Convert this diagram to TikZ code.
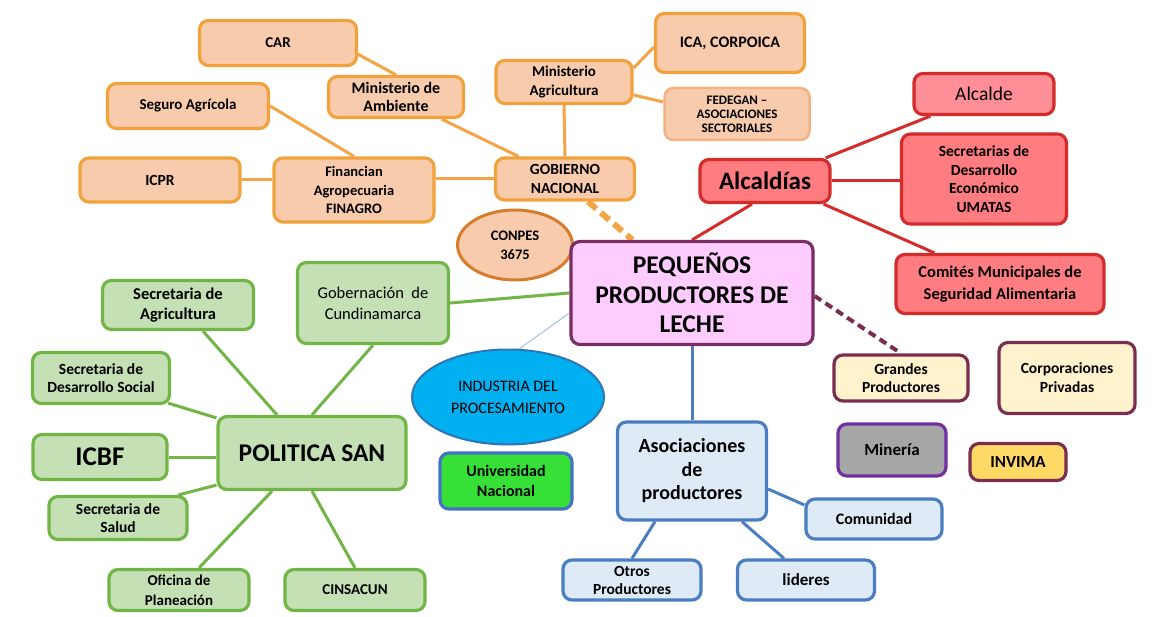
\documentclass[tikz,border=0pt]{standalone}
\usepackage{fontspec}
\setmainfont{Carlito}
\usetikzlibrary{backgrounds,calc,shapes.geometric}
\newcommand{\fsz}[2]{\fontsize{#1}{#2}\selectfont}
\definecolor{orF}{HTML}{F8CBAD}
\definecolor{orB}{HTML}{F2A23C}
\definecolor{orL}{HTML}{F4A447}
\definecolor{fedB}{HTML}{F4B183}
\definecolor{conB}{HTML}{D77B2D}
\definecolor{redF}{HTML}{FF7C80}
\definecolor{redF2}{HTML}{FF8E96}
\definecolor{redB}{HTML}{D42B2B}
\definecolor{pinkF}{HTML}{FFCCFF}
\definecolor{pinkB}{HTML}{7A2D62}
\definecolor{grF}{HTML}{C5E0B4}
\definecolor{grB}{HTML}{70B545}
\definecolor{bluF}{HTML}{DEEBF7}
\definecolor{bluB}{HTML}{4A7EC0}
\definecolor{indF}{HTML}{00B0F0}
\definecolor{indB}{HTML}{2E75B6}
\definecolor{uniF}{HTML}{36E036}
\definecolor{uniB}{HTML}{4472C4}
\definecolor{yelF}{HTML}{FFF2CC}
\definecolor{marB}{HTML}{7B2D50}
\definecolor{minF}{HTML}{A6A6A6}
\definecolor{minB}{HTML}{7030A0}
\definecolor{invF}{HTML}{FFD966}
\definecolor{thinL}{HTML}{9DC3E6}
\tikzset{
  wh/.style 2 args={minimum width=#1pt, minimum height=#2pt},
  box/.style={rectangle, rounded corners=9pt, line width=3.2pt, align=center, inner sep=2pt},
  obox/.style={box, draw=orB, fill=orF, font=\bfseries\fsz{15}{18.5}},
  rbox/.style={box, draw=redB, fill=redF, font=\bfseries\fsz{15.5}{18.5}},
  gbox/.style={box, draw=grB, fill=grF, font=\bfseries\fsz{15.5}{19}},
  bbox/.style={box, draw=bluB, fill=bluF, font=\bfseries\fsz{16}{19}},
  ybox/.style={box, draw=marB, fill=yelF, font=\bfseries\fsz{15.5}{18.5}},
  oline/.style={draw=orL, line width=3pt},
  rline/.style={draw=redB, line width=3pt},
  gline/.style={draw=grB, line width=3pt},
  bline/.style={draw=bluB, line width=3pt},
}
\begin{document}
\begin{tikzpicture}[x=1pt,y=-1pt]
\useasboundingbox (0,0) rectangle (1161,617);
% orange group
\node[obox, wh={157}{45}] (car) at (278,43) {CAR};
\node[obox, wh={135}{41}, font=\bfseries\fsz{16}{18}] (minamb) at (396,97) {Ministerio de\\Ambiente};
\node[obox, wh={161}{45}] (seguro) at (188,106) {Seguro Agrícola};
\node[obox, wh={160}{44}, font=\bfseries\fsz{15.5}{18}] (icpr) at (160,180) {ICPR};
\node[obox, wh={160}{64}, font=\bfseries\fsz{14.5}{18.5}] (financ) at (354,190) {Financian\\Agropecuaria\\FINAGRO};
\node[obox, wh={136}{43}, font=\bfseries\fsz{15}{19}] (minag) at (564,82) {Ministerio\\Agricultura};
\node[obox, wh={149}{59}, font=\bfseries\fsz{16}{18}] (ica) at (730,43) {ICA, CORPOICA};
\node[obox, draw=fedB, line width=2.5pt, wh={145}{52}, font=\bfseries\fsz{13}{14}] (fed) at (737,114) {FEDEGAN --\\ASOCIACIONES\\SECTORIALES};
\node[obox, wh={139}{42}, font=\bfseries\fsz{15.5}{19}] (gob) at (565,179) {GOBIERNO\\NACIONAL};
\node[ellipse, draw=conB, fill=orF, line width=3pt, wh={115}{70}, align=center, inner sep=0pt, font=\bfseries\fsz{14.5}{19}] (conpes) at (515,245) {CONPES\\3675};
% red group
\node[rbox, wh={130}{43}, font=\bfseries\fsz{25}{26}] (alc) at (765,181) {Alcaldías};
\node[rbox, fill=redF2, wh={140}{41}, font=\fsz{19.5}{21}] (alcalde) at (984,94) {Alcalde};
\node[rbox, wh={165}{90}] (sec) at (984,179) {Secretarias de\\Desarrollo\\Económico\\UMATAS};
\node[rbox, wh={208}{59}, font=\bfseries\fsz{16.5}{22.5}] (comites) at (1000,284) {Comités Municipales de\\Seguridad Alimentaria};
% main
\node[box, draw=pinkB, fill=pinkF, wh={242}{103}, font=\bfseries\fsz{25.5}{29.5}] (main) at (692,293) {PEQUEÑOS\\PRODUCTORES DE\\LECHE};
% green group
\node[gbox, wh={151}{81}, font=\fsz{16.5}{21}] (gobc) at (373,303) {Gobernación~ de\\Cundinamarca};
\node[gbox, wh={151}{49}, font=\bfseries\fsz{16.5}{20}] (secagr) at (178,305) {Secretaria de\\Agricultura};
\node[gbox, wh={137}{51}, font=\bfseries\fsz{15.5}{18.5}] (secdes) at (101,378) {Secretaria de\\Desarrollo Social};
\node[gbox, wh={134}{45}, font=\bfseries\fsz{27}{28}] (icbf) at (100,457) {ICBF};
\node[gbox, wh={188}{73}, font=\bfseries\fsz{25.5}{27}] (pol) at (312,453) {POLITICA SAN};
\node[gbox, wh={138}{43}, font=\bfseries\fsz{15.5}{18}] (salud) at (118,518) {Secretaria de\\Salud};
\node[gbox, wh={140}{41}, font=\bfseries\fsz{15}{20}] (ofi) at (179,590) {Oficina de\\Planeación};
\node[gbox, wh={140}{41}, font=\bfseries\fsz{15}{18}] (cins) at (355,590) {CINSACUN};
% industry / university
\node[ellipse, draw=indB, fill=indF, line width=2pt, wh={192}{95}, align=center, inner sep=0pt, font=\fsz{16}{22}] (ind) at (508,397) {INDUSTRIA DEL\\PROCESAMIENTO};
\node[box, draw=uniB, fill=uniF, wh={132}{56}, font=\bfseries\fsz{16}{20}] (uni) at (506,481) {Universidad\\Nacional};
% blue group
\node[bbox, wh={149}{98}, font=\bfseries\fsz{20}{23.5}] (asoc) at (692,471) {Asociaciones\\de\\productores};
\node[bbox, wh={136}{40}] (comun) at (874,519) {Comunidad};
\node[bbox, wh={137}{40}, font=\bfseries\fsz{17}{19}] (lid) at (806,580) {lideres};
\node[bbox, wh={138}{40}, font=\bfseries\fsz{15.5}{18}] (otros) at (632,580) {Otros\\Productores};
% others
\node[ybox, wh={134}{46}, font=\bfseries\fsz{15.5}{18}] (grandes) at (901,378) {Grandes\\Productores};
\node[ybox, wh={136}{71}, font=\bfseries\fsz{15.5}{19}] (corp) at (1067,378) {Corporaciones\\Privadas};
\node[box, draw=minB, fill=minF, wh={108}{52}, font=\bfseries\fsz{17}{18}] (mineria) at (892,450) {Minería};
\node[box, draw=marB, fill=invF, wh={96}{37}, font=\bfseries\fsz{17}{18}] (invima) at (1018,462) {INVIMA};

\begin{scope}[on background layer]
\fill[white] (0,0) rectangle (1161,617);
% orange connectors
\draw[oline] (car.-8) -- (minamb.north);
\draw[oline] (minamb) -- (gob);
\draw[oline] (seguro.east) -- (financ.north);
\draw[oline] (icpr.east) -- (icpr.east -| financ.west);
\draw[oline] (gob.west) -- (gob.west -| financ.east);
\draw[oline] (minag.south) -- (gob.north);
\draw[oline] ($(minag.east)+(0,-14)$) -- ($(ica.west)+(0,4)$);
\draw[oline] ($(minag.east)+(0,13)$) -- ($(fed.west)+(0,-12)$);
\draw[draw=orL, line width=6pt, dash pattern=on 11pt off 6pt] ($(gob.south)+(23,0)$) -- ($(main.north west)+(63,0)$);
% red connectors
\draw[rline] ($(alc.south)+(-13,0)$) -- (main.north);
\draw[rline] ($(alc.north east)+(-6,0)$) -- ($(alcalde.south west)+(18,0)$);
\draw[rline] (alc.east) -- (alc.east -| sec.west);
\draw[rline] ($(alc.south east)+(-8,0)$) -- ($(comites.north west)+(40,0)$);
% green connectors
\draw[gline] (gobc.east) -- (main.west);
\draw[gline] (gobc.south) -- (pol.north);
\draw[gline] ($(secagr.south)+(25,0)$) -- ($(pol.north)+(-35,0)$);
\draw[gline] ($(secdes.south east)+(-3,-2)$) -- ($(pol.north west)+(0,3)$);
\draw[gline] (icbf.east) -- (icbf.east -| pol.west);
\draw[gline] ($(salud.north east)+(-10,0)$) -- ($(pol.south west)+(0,-6)$);
\draw[gline] ($(ofi.north)+(20,0)$) -- ($(pol.south)+(-40,0)$);
\draw[gline] (pol.south) -- (cins.north);
% thin industry line
\draw[draw=thinL, line width=1pt] ($(ind.north)+(9,2)$) -- ($(main.west)+(0,20)$);
% blue connectors
\draw[bline] (main.south) -- (asoc.north);
\draw[bline] ($(asoc.east)+(0,18)$) -- ($(comun.west)+(0,-14)$);
\draw[bline] ($(asoc.south)+(50,0)$) -- ($(lid.north)+(-22,0)$);
\draw[bline] ($(asoc.south)+(-37,0)$) -- (otros.north);
% purple dashed
\draw[draw=marB, line width=4pt, dash pattern=on 8pt off 5pt] ($(main.east)+(0,3)$) -- (grandes.north);
\end{scope}
\end{tikzpicture}
\end{document}
